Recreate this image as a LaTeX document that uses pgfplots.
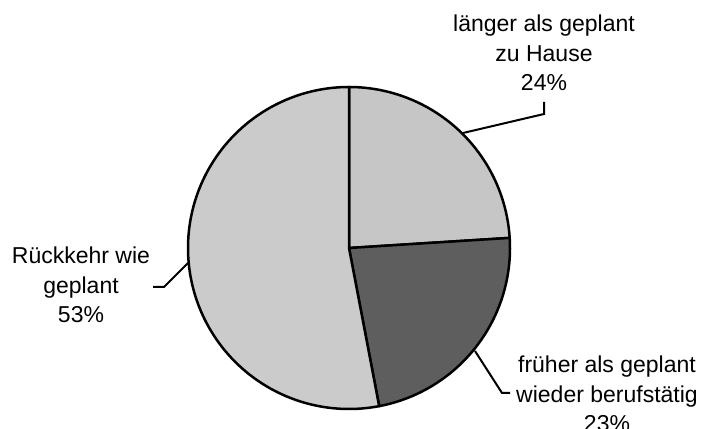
\documentclass[border=0pt]{standalone}
\usepackage{pgfplots}
\usepackage{pgfplotstable}
\pgfplotsset{compat=1.18}
\usepackage{fontspec}
\setmainfont{Liberation Sans}
\definecolor{sliceA}{HTML}{C6C6C6}
\definecolor{sliceB}{HTML}{5E5E5E}
\definecolor{sliceC}{HTML}{CBCBCB}
\pgfplotstableread{
label value
laenger 24
frueher 23
rueckkehr 53
}\piedata
\pgfplotstablegetelem{0}{value}\of\piedata\let\va\pgfplotsretval%
\pgfplotstablegetelem{1}{value}\of\piedata\let\vb\pgfplotsretval%
\pgfplotstablegetelem{2}{value}\of\piedata\let\vc\pgfplotsretval%
\pgfmathsetmacro\aA{90}%
\pgfmathsetmacro\aB{90-3.6*\va}%
\pgfmathsetmacro\aC{\aB-3.6*\vb}%
\pgfmathsetmacro\aD{\aC-3.6*\vc}%
\begin{document}%
\begin{tikzpicture}
\begin{axis}[
  name=ax,
  width=703bp, height=429bp, scale only axis,
  xmin=0, xmax=703, ymin=0, ymax=429,
  enlargelimits=false,
  hide axis, clip=false,
]
\addplot[fill=sliceA, draw=black, line width=2.5bp, line join=round, domain=\aB:\aA, samples=90]
  ({349+161*cos(x)}, {181+161*sin(x)}) -- (axis cs:349,181) -- cycle;
\addplot[fill=sliceB, draw=black, line width=2.5bp, line join=round, domain=\aC:\aB, samples=90]
  ({349+161*cos(x)}, {181+161*sin(x)}) -- (axis cs:349,181) -- cycle;
\addplot[fill=sliceC, draw=black, line width=2.5bp, line join=round, domain=\aD:\aC, samples=180]
  ({349+161*cos(x)}, {181+161*sin(x)}) -- (axis cs:349,181) -- cycle;
% leader lines
\draw[black, line width=2bp] (axis cs:463,296) -- (axis cs:544,315) -- (axis cs:544,327);
\draw[black, line width=2bp] (axis cs:188,166) -- (axis cs:164,142) -- (axis cs:153,142);
\draw[black, line width=2bp] (axis cs:475,78) -- (axis cs:502,36) -- (axis cs:510,36);
% labels
\begin{scope}[every node/.style={anchor=base, inner sep=0pt, font=\fontsize{23bp}{28bp}\selectfont}]
\node at (axis cs:544,397) {länger als geplant};
\node at (axis cs:544,367) {zu Hause};
\node at (axis cs:544,338) {24\%};
\node at (axis cs:81,165) {Rückkehr wie};
\node at (axis cs:81,135) {geplant};
\node at (axis cs:81,106) {53\%};
\node at (axis cs:607,56) {früher als geplant};
\node at (axis cs:607,27) {wieder berufstätig};
\node at (axis cs:607,-2) {23\%};
\end{scope}
\end{axis}
\pgfresetboundingbox
\path[use as bounding box] (ax.south west) rectangle (ax.north east);
\end{tikzpicture}%
\end{document}
